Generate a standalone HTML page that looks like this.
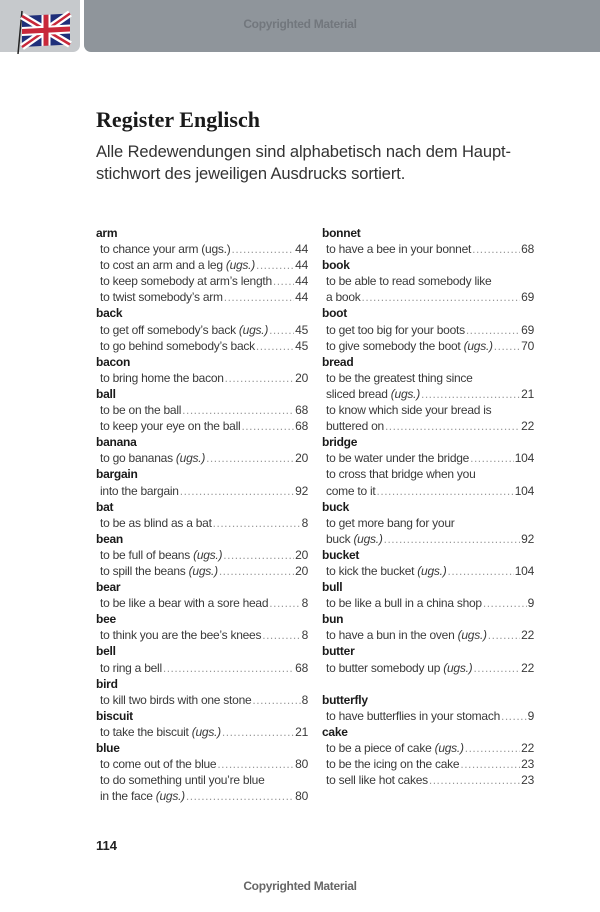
<!DOCTYPE html>
<html><head><meta charset="utf-8"><style>
*{margin:0;padding:0;box-sizing:border-box}
body{width:600px;height:912px;background:#fff;position:relative;overflow:hidden;font-family:"Liberation Sans",sans-serif;color:#222}
.hl{position:absolute;left:0;top:0;width:80px;height:52px;background:#c6c9cc;border-bottom-right-radius:7px}
.hr{position:absolute;left:84px;top:0;width:516px;height:52px;background:#8f959b;border-bottom-left-radius:7px}
.cm{position:absolute;left:0;width:600px;text-align:center;font-size:12px;font-weight:bold;letter-spacing:-0.3px}
h1{position:absolute;left:96px;top:107px;font-family:"Liberation Serif",serif;font-size:22px;font-weight:bold;color:#1a1a1a}
.sub{position:absolute;left:96px;top:141px;font-size:16.5px;line-height:22px;color:#333;letter-spacing:-0.1px}
.col{position:absolute;top:225px;width:212px;font-size:12px;letter-spacing:-0.25px}
.col div{height:16.1px;line-height:16.1px;white-space:nowrap}
.h{font-weight:bold;color:#1a1a1a}
.e{display:flex;padding-left:4px;color:#3a3a3a}
.e .d{flex:1;overflow:hidden;margin:0 1px;color:#999}
.e .d:before{content:"..........................................................................................................";letter-spacing:0.5px}
.pn{position:absolute;left:96px;top:838px;font-weight:bold;font-size:13px}
</style></head><body>
<div class="hl"></div>
<svg style="position:absolute;left:14px;top:8px" width="60" height="46" viewBox="0 0 60 46">
<line x1="8" y1="3" x2="4" y2="46" stroke="#222" stroke-width="1.5"/>
<g transform="translate(8,8) skewY(-3)">
<rect width="48" height="31" fill="#1f2f7a"/>
<path d="M0 0L48 31M48 0L0 31" stroke="#fff" stroke-width="7"/>
<path d="M0 0L48 31M48 0L0 31" stroke="#c8283a" stroke-width="2.5"/>
<path d="M24 0V31M0 15.5H48" stroke="#fff" stroke-width="9"/>
<path d="M24 0V31M0 15.5H48" stroke="#c8283a" stroke-width="5"/>
</g></svg>
<div class="hr"></div>
<div class="cm" style="top:17px;color:#72777d">Copyrighted Material</div>
<h1>Register Englisch</h1>
<div class="sub">Alle Redewendungen sind alphabetisch nach dem Haupt-<br>stichwort des jeweiligen Ausdrucks sortiert.</div>
<div class="col" style="left:96px">
<div class="h">arm</div>
<div class="e"><span>to chance your arm (ugs.)</span><span class="d"></span><span>44</span></div>
<div class="e"><span>to cost an arm and a leg <i>(ugs.)</i></span><span class="d"></span><span>44</span></div>
<div class="e"><span>to keep somebody at arm’s length</span><span class="d"></span><span>44</span></div>
<div class="e"><span>to twist somebody’s arm</span><span class="d"></span><span>44</span></div>
<div class="h">back</div>
<div class="e"><span>to get off somebody’s back <i>(ugs.)</i></span><span class="d"></span><span>45</span></div>
<div class="e"><span>to go behind somebody’s back</span><span class="d"></span><span>45</span></div>
<div class="h">bacon</div>
<div class="e"><span>to bring home the bacon</span><span class="d"></span><span>20</span></div>
<div class="h">ball</div>
<div class="e"><span>to be on the ball</span><span class="d"></span><span>68</span></div>
<div class="e"><span>to keep your eye on the ball</span><span class="d"></span><span>68</span></div>
<div class="h">banana</div>
<div class="e"><span>to go bananas <i>(ugs.)</i></span><span class="d"></span><span>20</span></div>
<div class="h">bargain</div>
<div class="e"><span>into the bargain</span><span class="d"></span><span>92</span></div>
<div class="h">bat</div>
<div class="e"><span>to be as blind as a bat</span><span class="d"></span><span>8</span></div>
<div class="h">bean</div>
<div class="e"><span>to be full of beans <i>(ugs.)</i></span><span class="d"></span><span>20</span></div>
<div class="e"><span>to spill the beans <i>(ugs.)</i></span><span class="d"></span><span>20</span></div>
<div class="h">bear</div>
<div class="e"><span>to be like a bear with a sore head</span><span class="d"></span><span>8</span></div>
<div class="h">bee</div>
<div class="e"><span>to think you are the bee’s knees</span><span class="d"></span><span>8</span></div>
<div class="h">bell</div>
<div class="e"><span>to ring a bell</span><span class="d"></span><span>68</span></div>
<div class="h">bird</div>
<div class="e"><span>to kill two birds with one stone</span><span class="d"></span><span>8</span></div>
<div class="h">biscuit</div>
<div class="e"><span>to take the biscuit <i>(ugs.)</i></span><span class="d"></span><span>21</span></div>
<div class="h">blue</div>
<div class="e"><span>to come out of the blue</span><span class="d"></span><span>80</span></div>
<div class="e"><span>to do something until you’re blue</span></div>
<div class="e"><span>in the face <i>(ugs.)</i></span><span class="d"></span><span>80</span></div>
</div>
<div class="col" style="left:322px">
<div class="h">bonnet</div>
<div class="e"><span>to have a bee in your bonnet</span><span class="d"></span><span>68</span></div>
<div class="h">book</div>
<div class="e"><span>to be able to read somebody like</span></div>
<div class="e"><span>a book</span><span class="d"></span><span>69</span></div>
<div class="h">boot</div>
<div class="e"><span>to get too big for your boots</span><span class="d"></span><span>69</span></div>
<div class="e"><span>to give somebody the boot <i>(ugs.)</i></span><span class="d"></span><span>70</span></div>
<div class="h">bread</div>
<div class="e"><span>to be the greatest thing since</span></div>
<div class="e"><span>sliced bread <i>(ugs.)</i></span><span class="d"></span><span>21</span></div>
<div class="e"><span>to know which side your bread is</span></div>
<div class="e"><span>buttered on</span><span class="d"></span><span>22</span></div>
<div class="h">bridge</div>
<div class="e"><span>to be water under the bridge</span><span class="d"></span><span>104</span></div>
<div class="e"><span>to cross that bridge when you</span></div>
<div class="e"><span>come to it</span><span class="d"></span><span>104</span></div>
<div class="h">buck</div>
<div class="e"><span>to get more bang for your</span></div>
<div class="e"><span>buck <i>(ugs.)</i></span><span class="d"></span><span>92</span></div>
<div class="h">bucket</div>
<div class="e"><span>to kick the bucket <i>(ugs.)</i></span><span class="d"></span><span>104</span></div>
<div class="h">bull</div>
<div class="e"><span>to be like a bull in a china shop</span><span class="d"></span><span>9</span></div>
<div class="h">bun</div>
<div class="e"><span>to have a bun in the oven <i>(ugs.)</i></span><span class="d"></span><span>22</span></div>
<div class="h">butter</div>
<div class="e"><span>to butter somebody up <i>(ugs.)</i></span><span class="d"></span><span>22</span></div>
<div></div>
<div class="h">butterfly</div>
<div class="e"><span>to have butterflies in your stomach</span><span class="d"></span><span>9</span></div>
<div class="h">cake</div>
<div class="e"><span>to be a piece of cake <i>(ugs.)</i></span><span class="d"></span><span>22</span></div>
<div class="e"><span>to be the icing on the cake</span><span class="d"></span><span>23</span></div>
<div class="e"><span>to sell like hot cakes</span><span class="d"></span><span>23</span></div>
</div>
<div class="pn">114</div>
<div class="cm" style="top:879px;color:#666">Copyrighted Material</div>
</body></html>
